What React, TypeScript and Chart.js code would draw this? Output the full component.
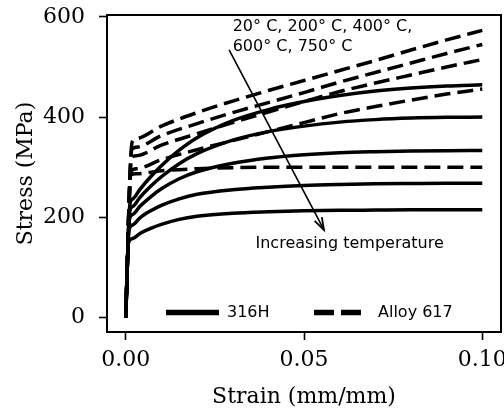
import React, { useEffect, useRef } from "react";
import { Chart, registerables } from "chart.js";

Chart.register(...registerables);

// Axis ticks
const xTicks = [0, 0.05, 0.1];
const yTicks = [0, 200, 400, 600];

// 316H (solid lines), five temperatures: 20, 200, 400, 600, 750 °C
const strain316 = [0.002, 0.004, 0.007, 0.01, 0.015, 0.02, 0.03, 0.04, 0.05, 0.06, 0.07, 0.08, 0.09, 0.1];
const yield316Strain = [0.0012, 0.0011, 0.001, 0.0009, 0.0008];
const yield316Stress = [228, 212, 195, 175, 150];
const h316_T1 = [237, 256, 281, 303, 334, 359, 393, 415, 431, 443, 452, 458, 462, 464.5];
const h316_T2 = [222, 240, 262, 281, 307, 327, 354, 371, 382, 390, 395, 398, 399.5, 400];
const h316_T3 = [206, 222, 241, 257, 277, 291, 308, 318.5, 325, 329, 331, 332.3, 333, 333.3];
const h316_T4 = [185, 199, 213, 224, 237, 246, 255, 260, 263.5, 265.5, 266.8, 267.5, 268, 268];
const h316_T5 = [158, 168, 178, 186, 196, 202, 208, 211, 213, 214, 214.5, 215, 215, 215];

// Alloy 617 (dashed lines)
const strain617 = [0.003, 0.01, 0.02, 0.03, 0.04, 0.05, 0.06, 0.07, 0.08, 0.09, 0.1];
const yield617Strain = [0.0018, 0.0017, 0.0016, 0.0015, 0.0014];
const yield617Stress = [350, 335, 318, 292, 285];
const a617_T1 = [357, 382, 409, 432, 453, 473, 493, 513, 534, 554, 573];
const a617_T2 = [340, 363, 387, 409, 429, 449, 470, 489, 508, 527, 545];
const a617_T3 = [323, 344, 367, 389, 410, 431, 451, 468, 484, 500, 515];
const a617_T4 = [297, 315, 335, 353, 371, 389, 407, 421, 434, 446, 456];
const a617_T5 = [287, 293, 297, 299, 300, 300, 300, 300, 300, 300, 300];

// Annotations
const noteLines = ["20° C, 200° C, 400° C,", "600° C, 750° C"];
const noteX = 0.030;
const noteY = [580, 541];
const arrowFrom = [0.029, 534];
const arrowTo = [0.0556, 175];
const tempLabel = "Increasing temperature";
const tempLabelPos = [0.0628, 147];
const legendLabels = ["316H", "Alloy 617"];

function curve(ys: number, ysig: number, grid: number[], vals: number[]) {
  return [{ x: 0, y: 0 }, { x: ys, y: ysig }, ...grid.map((x, i) => ({ x, y: vals[i] }))];
}

const solidSets = [h316_T1, h316_T2, h316_T3, h316_T4, h316_T5];
const dashedSets = [a617_T1, a617_T2, a617_T3, a617_T4, a617_T5];

const overlay = {
  id: "overlay",
  afterDraw(chart: any) {
    const { ctx, chartArea: a, scales } = chart;
    const xs = scales.x;
    const ysc = scales.y;
    ctx.save();
    ctx.strokeStyle = "#000";
    ctx.lineWidth = 2;
    ctx.strokeRect(a.left, a.top, a.right - a.left, a.bottom - a.top);

    ctx.fillStyle = "#000";
    ctx.font = '16px "DejaVu Sans"';
    ctx.textBaseline = "middle";
    ctx.textAlign = "left";
    noteLines.forEach((t, i) => {
      ctx.fillText(t, xs.getPixelForValue(noteX), ysc.getPixelForValue(noteY[i]));
    });
    ctx.textAlign = "center";
    ctx.fillText(tempLabel, xs.getPixelForValue(tempLabelPos[0]), ysc.getPixelForValue(tempLabelPos[1]));

    // arrow
    const x0 = xs.getPixelForValue(arrowFrom[0]);
    const y0 = ysc.getPixelForValue(arrowFrom[1]);
    const x1 = xs.getPixelForValue(arrowTo[0]);
    const y1 = ysc.getPixelForValue(arrowTo[1]);
    ctx.lineWidth = 1.6;
    ctx.beginPath();
    ctx.moveTo(x0, y0);
    ctx.lineTo(x1, y1);
    ctx.stroke();
    const ang = Math.atan2(y1 - y0, x1 - x0);
    const hl = 13;
    const hw = 0.32;
    ctx.lineWidth = 1.8;
    ctx.beginPath();
    ctx.moveTo(x1 - hl * Math.cos(ang - hw), y1 - hl * Math.sin(ang - hw));
    ctx.lineTo(x1, y1);
    ctx.lineTo(x1 - hl * Math.cos(ang + hw), y1 - hl * Math.sin(ang + hw));
    ctx.stroke();

    // legend
    const ly = a.bottom - 19.5;
    ctx.lineWidth = 5.5;
    ctx.lineCap = "butt";
    ctx.setLineDash([]);
    ctx.beginPath();
    ctx.moveTo(a.left + 59, ly);
    ctx.lineTo(a.left + 112, ly);
    ctx.stroke();
    ctx.setLineDash([20, 7]);
    ctx.beginPath();
    ctx.moveTo(a.left + 207, ly);
    ctx.lineTo(a.left + 261, ly);
    ctx.stroke();
    ctx.setLineDash([]);
    ctx.textAlign = "left";
    ctx.fillText(legendLabels[0], a.left + 120, ly);
    ctx.fillText(legendLabels[1], a.left + 271, ly);
    ctx.restore();
  },
};

export default function App() {
  const ref = useRef<HTMLCanvasElement | null>(null);
  useEffect(() => {
    document.body.style.margin = "0";
    const datasets: any[] = [];
    dashedSets.forEach((vals, i) => {
      datasets.push({
        label: "Alloy 617",
        data: curve(yield617Strain[i], yield617Stress[i], strain617, vals),
        borderColor: "#000",
        borderWidth: 3.5,
        borderDash: [16, 7],
        pointRadius: 0,
        cubicInterpolationMode: "monotone",
        fill: false,
      });
    });
    solidSets.forEach((vals, i) => {
      datasets.push({
        label: "316H",
        data: curve(yield316Strain[i], yield316Stress[i], strain316, vals),
        borderColor: "#000",
        borderWidth: 3.5,
        pointRadius: 0,
        cubicInterpolationMode: "monotone",
        fill: false,
      });
    });
    const tickFont = { family: '"DejaVu Serif"', size: 22 };
    const chart = new Chart(ref.current as HTMLCanvasElement, {
      type: "line",
      data: { datasets },
      plugins: [overlay],
      options: {
        responsive: false,
        animation: false,
        layout: { padding: { top: 15, right: 3, left: 0, bottom: 0 } },
        plugins: { legend: { display: false }, tooltip: { enabled: false } },
        scales: {
          x: {
            type: "linear",
            min: -0.00525,
            max: 0.10525,
            afterBuildTicks: (s: any) => {
              s.ticks = xTicks.map((v) => ({ value: v }));
            },
            afterFit: (s: any) => {
              s.height = 80;
              s.paddingLeft = 0;
              s.paddingRight = 0;
            },
            ticks: {
              color: "#000",
              font: tickFont,
              padding: 7,
              maxRotation: 0,
              callback: (v: any) => Number(v).toFixed(2),
            },
            grid: { drawOnChartArea: false, drawTicks: true, tickLength: 8, tickWidth: 1.6, tickColor: "#000" },
            border: { display: false },
            title: {
              display: true,
              text: "Strain (mm/mm)",
              color: "#000",
              font: tickFont,
              padding: { top: 0, bottom: 2 },
            },
          },
          y: {
            type: "linear",
            min: -28.75,
            max: 603.75,
            afterBuildTicks: (s: any) => {
              s.ticks = yTicks.map((v) => ({ value: v }));
            },
            afterFit: (s: any) => {
              s.width = 107;
              s.paddingTop = 0;
              s.paddingBottom = 0;
            },
            ticks: {
              color: "#000",
              font: tickFont,
              padding: 14,
              callback: (v: any) => String(v),
            },
            grid: { drawOnChartArea: false, drawTicks: true, tickLength: 8, tickWidth: 1.6, tickColor: "#000" },
            border: { display: false },
            title: {
              display: true,
              text: "Stress (MPa)",
              color: "#000",
              font: tickFont,
              padding: { top: 13, bottom: 0 },
            },
          },
        },
      } as any,
    });
    return () => chart.destroy();
  }, []);
  return (
    <div style={{ position: "absolute", left: 0, top: 0, width: 504, height: 412 }}>
      <canvas ref={ref} width={504} height={412} />
    </div>
  );
}
